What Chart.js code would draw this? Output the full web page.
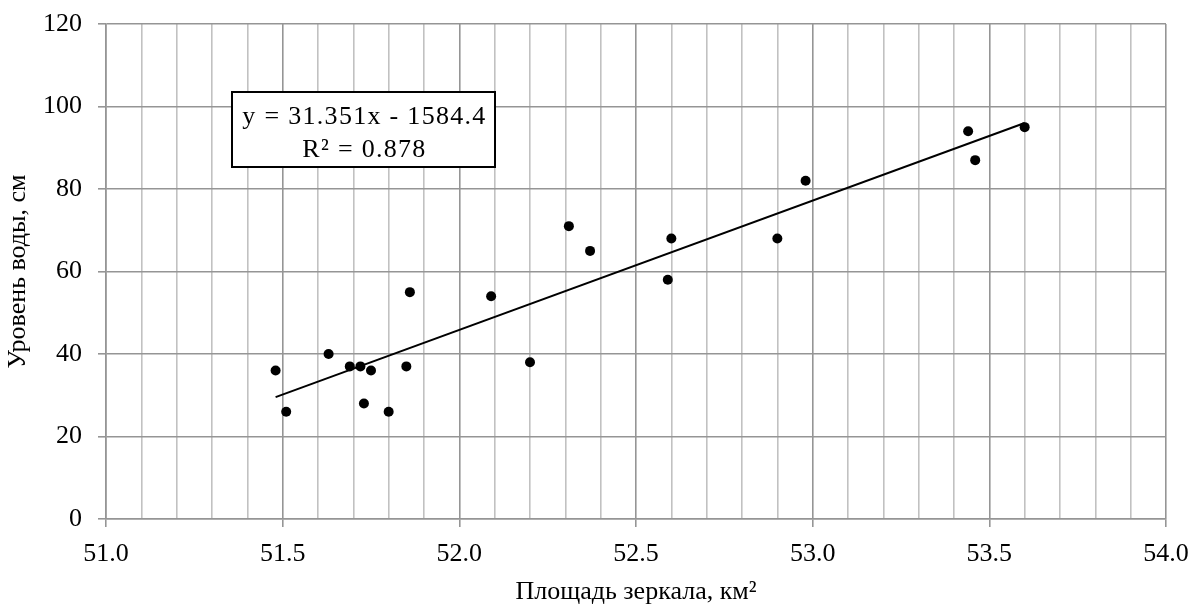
<!DOCTYPE html>
<html>
<head>
<meta charset="utf-8">
<title>Уровень воды и площадь зеркала</title>
<script src="https://cdn.jsdelivr.net/npm/chart.js@4.4.0/dist/chart.umd.min.js"></script>
<style>
  html, body { margin: 0; padding: 0; background: #ffffff; }
  canvas { display: block; }
</style>
</head>
<body>
<canvas id="chart" width="1192" height="605"></canvas>
<script>
// Observed pairs: mirror area (km²) and water level (cm)
const area  = [51.48, 51.51, 51.63, 51.69, 51.72, 51.73, 51.75, 51.80, 51.85, 51.86, 52.09,
               52.20, 52.31, 52.37, 52.59, 52.60, 52.90, 52.98, 53.44, 53.46, 53.60];
const level = [36, 26, 40, 37, 37, 28, 36, 26, 37, 55, 54,
               38, 71, 65, 58, 68, 68, 82, 94, 87, 95];

// Linear trend y = slope * x + intercept, and its R²
const slope = 31.351;
const intercept = -1584.4;
const rSquared = 0.878;

// Axis ranges and steps
const xRange = [51, 54];
const yRange = [0, 120];
const xMinorStep = 0.1;
const xMajorStep = 0.5;
const yStep = 20;

const FONT = '"Liberation Serif", "Times New Roman", serif';
const MAJOR_GRID = '#959595';
const MINOR_GRID = '#c1c1c1';

const points = area.map((x, i) => ({ x: x, y: level[i] }));
const xLo = Math.min(...area), xHi = Math.max(...area);
const trend = [xLo, xHi].map(x => ({ x: x, y: slope * x + intercept }));

const isMajorX = v => Math.abs(v / xMajorStep - Math.round(v / xMajorStep)) < 1e-6;

// Equation label with a framed white box
const equationBox = {
  id: 'equationBox',
  afterDatasetsDraw(chart) {
    const ctx = chart.ctx;
    const a = chart.chartArea;
    const left = a.left + 126, top = a.top + 68, w = 263, h = 75;
    ctx.save();
    ctx.fillStyle = '#ffffff';
    ctx.fillRect(left, top, w, h);
    ctx.strokeStyle = '#000000';
    ctx.lineWidth = 2;
    ctx.strokeRect(left, top, w, h);
    ctx.fillStyle = '#000000';
    ctx.font = '26px ' + FONT;
    ctx.letterSpacing = '1.3px';
    ctx.textAlign = 'center';
    ctx.textBaseline = 'alphabetic';
    const sign = intercept < 0 ? ' - ' : ' + ';
    ctx.fillText('y = ' + slope + 'x' + sign + Math.abs(intercept), left + w / 2 + 1, top + 32);
    ctx.fillText('R\u00B2 = ' + rSquared, left + w / 2 + 1, top + 65);
    ctx.restore();
  }
};

new Chart(document.getElementById('chart'), {
  type: 'scatter',
  data: {
    datasets: [
      {
        label: 'Уровень воды',
        data: points,
        pointRadius: 5,
        pointHoverRadius: 5,
        pointBackgroundColor: '#000000',
        pointBorderColor: '#000000',
        pointBorderWidth: 0,
        showLine: false,
        order: 1
      },
      {
        label: 'Линейный тренд',
        data: trend,
        type: 'line',
        borderColor: '#000000',
        borderWidth: 2,
        pointRadius: 0,
        fill: false,
        order: 2
      }
    ]
  },
  options: {
    responsive: false,
    animation: false,
    devicePixelRatio: 1,
    layout: { padding: { left: 0, right: 26, top: 24, bottom: 0 } },
    plugins: {
      legend: { display: false },
      tooltip: { enabled: false }
    },
    scales: {
      x: {
        type: 'linear',
        min: xRange[0],
        max: xRange[1],
        afterFit(scale) {
          scale.height = 86;
          scale.paddingLeft = 0;
          scale.paddingRight = 0;
        },
        ticks: {
          stepSize: xMinorStep,
          maxTicksLimit: 1000,
          autoSkip: false,
          maxRotation: 0,
          color: '#000000',
          padding: 12,
          font: { family: FONT, size: 26 },
          callback: v => isMajorX(v) ? Number(v).toFixed(1) : ''
        },
        grid: {
          color: c => isMajorX(c.tick.value) ? MAJOR_GRID : MINOR_GRID,
          lineWidth: 1.6,
          tickLength: 8,
          tickColor: c => isMajorX(c.tick.value) ? MAJOR_GRID : 'rgba(0,0,0,0)',
          tickWidth: 1.6
        },
        border: { color: MAJOR_GRID, width: 1.6 },
        title: {
          display: true,
          text: 'Площадь зеркала, км²',
          color: '#000000',
          font: { family: FONT, size: 26, lineHeight: 1.0 },
          padding: 0
        }
      },
      y: {
        type: 'linear',
        min: yRange[0],
        max: yRange[1],
        afterFit(scale) {
          scale.width = 106;
          scale.paddingTop = 0;
          scale.paddingBottom = 0;
        },
        ticks: {
          stepSize: yStep,
          color: '#000000',
          padding: 16,
          font: { family: FONT, size: 26 }
        },
        grid: {
          color: MAJOR_GRID,
          lineWidth: 1.6,
          tickLength: 8,
          tickColor: MAJOR_GRID,
          tickWidth: 1.6
        },
        border: { color: MAJOR_GRID, width: 1.6 },
        title: {
          display: true,
          text: 'Уровень воды, см',
          color: '#000000',
          font: { family: FONT, size: 26, lineHeight: 1.0 },
          padding: 5
        }
      }
    }
  },
  plugins: [equationBox]
});
</script>
</body>
</html>
